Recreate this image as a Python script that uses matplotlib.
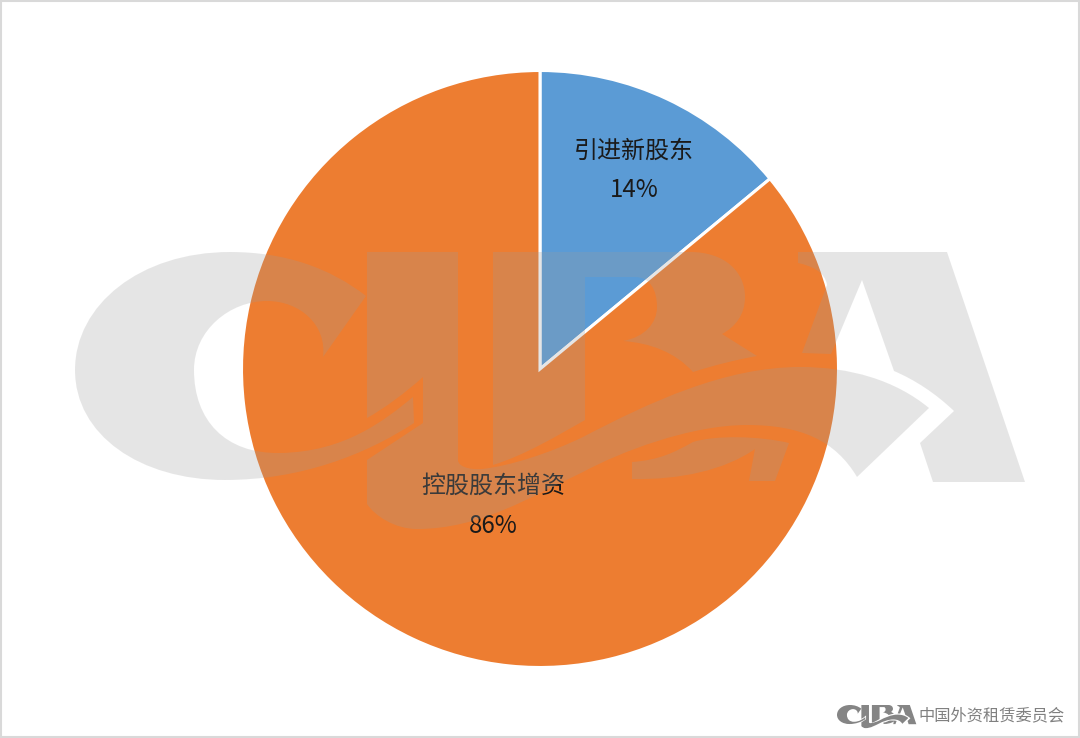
import matplotlib
matplotlib.use("Agg")
import matplotlib.pyplot as plt
from matplotlib.patches import PathPatch, Rectangle
from matplotlib.path import Path
from matplotlib.transforms import Affine2D

plt.rcParams['font.family'] = ['Noto Sans CJK SC', 'DejaVu Sans']

# 数据
labels = ["引进新股东", "控股股东增资"]
shares = [14, 86]
colors = ["#5B9BD5", "#ED7D31"]

W, H = 1080, 738


# 水印形状: 点后面跟 "c" 三个一组的是贝塞尔曲线, 其余是直线
def shape(start, *segs):
    verts = [start]
    codes = [Path.MOVETO]
    for seg in segs:
        if len(seg) == 3:
            verts.extend(seg)
            codes.extend([Path.CURVE4] * 3)
        else:
            verts.append(seg)
            codes.append(Path.LINETO)
    verts.append(start)
    codes.append(Path.CLOSEPOLY)
    return Path(verts, codes)


logo_c = shape((366, 296),
               ((330, 268), (285, 252), (230, 252)),
               ((140, 252), (75, 305), (75, 370)),
               ((75, 435), (140, 480), (225, 480)),
               ((300, 480), (365, 455), (414, 423)),
               (413, 397),
               ((385, 420), (345, 452), (280, 453)),
               ((225, 454), (194, 420), (194, 370)),
               ((194, 330), (230, 301), (267, 301)),
               ((300, 301), (327, 325), (323, 357)))

logo_i = shape((367, 252),
               (458, 252),
               (458, 460),
               ((458, 466), (468, 470), (482, 469)),
               ((510, 466), (550, 453), (583, 437)),
               ((650, 402), (725, 367), (800, 367)),
               ((850, 367), (895, 380), (929, 408)),
               (857, 477),
               ((835, 440), (800, 425), (747, 425)),
               ((690, 425), (620, 452), (583, 472)),
               ((530, 497), (480, 529), (417, 529)),
               ((395, 529), (375, 516), (367, 504)),
               (367, 460),
               (423, 423),
               (423, 377),
               ((405, 393), (385, 408), (367, 418)))

logo_r = shape((493, 252),
               (690, 252),
               ((725, 252), (745, 272), (745, 297)),
               ((745, 315), (735, 327), (722, 334)),
               (757, 356),
               ((735, 360), (715, 365), (693, 372)),
               ((675, 352), (650, 343), (623, 341)),
               ((645, 337), (657, 323), (657, 307)),
               ((657, 290), (650, 277), (635, 277)),
               (585, 277),
               (585, 420),
               ((555, 437), (525, 455), (493, 465)))

logo_tail = shape((632, 462),
                  (632, 479),
                  ((680, 480), (725, 470), (755, 449)),
                  (749, 481),
                  (775, 481),
                  (789, 443),
                  ((760, 436), (715, 435), (693, 442)),
                  ((675, 452), (660, 460), (632, 462)))

logo_a = shape((798, 252),
               (947, 252),
               (1025, 482),
               (933, 482),
               (920, 443),
               (954, 411),
               ((935, 393), (915, 380), (894, 371)),
               (862, 280),
               (831, 354),
               (802, 353),
               (827, 285),
               ((825, 272), (812, 266), (798, 263)))

logo_parts = [logo_c, logo_i, logo_r, logo_tail, logo_a]

fig = plt.figure(figsize=(W / 100, H / 100), dpi=100)

# 饼图
cx, cy, r = 540, 369, 298.5
ax = fig.add_axes([(cx - r) / W, 1 - (cy + r) / H, 2 * r / W, 2 * r / H], zorder=1)
ax.pie(shares, colors=colors, startangle=90, counterclock=False, radius=1,
       wedgeprops={"edgecolor": "white", "linewidth": 2.2})
ax.set_xlim(-1, 1)
ax.set_ylim(-1, 1)

# 上层: 按像素坐标放文字和水印
top = fig.add_axes([0, 0, 1, 1], zorder=2)
top.set_xlim(0, W)
top.set_ylim(H, 0)
top.axis("off")
top.patch.set_alpha(0)

top.text(634, 151, labels[0], fontsize=17.3, ha="center", va="center", color="#1a1a1a", zorder=1)
top.text(634, 190, f"{shares[0]}%", fontsize=17.3, ha="center", va="center", color="#1a1a1a", zorder=1)
top.text(493, 486, labels[1], fontsize=17.3, ha="center", va="center", color="#1a1a1a", zorder=1)
top.text(493, 526, f"{shares[1]}%", fontsize=17.3, ha="center", va="center", color="#1a1a1a", zorder=1)

for part in logo_parts:
    top.add_patch(PathPatch(part, facecolor="#9b9b9b", edgecolor="none", alpha=0.25, zorder=2))

# 右下角小标志
small = Affine2D().translate(-75, -252).scale(0.0835).translate(837, 705)
for part in logo_parts:
    top.add_patch(PathPatch(part.transformed(small), facecolor="#858585", edgecolor="none", zorder=3))
top.text(992, 716, "中国外资租赁委员会", fontsize=11.7, ha="center", va="center", color="#808080", zorder=3)

# 外框
top.add_patch(Rectangle((0.5, 0.5), W - 2, H - 2, facecolor="none", edgecolor="#d9d9d9",
                        linewidth=1.5, zorder=4, clip_on=False))

fig.savefig("out.png", dpi=100)
